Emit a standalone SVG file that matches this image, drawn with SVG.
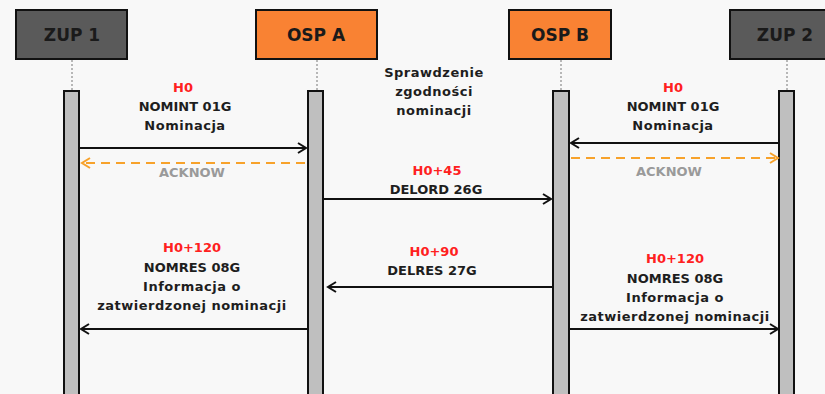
<svg xmlns="http://www.w3.org/2000/svg" width="825" height="394" viewBox="0 0 825 394">
<defs>
<style>
.bg{fill:#f8f8f8}
.hdr{stroke:#111;stroke-width:2}
.grey{fill:#5a5a5a}
.orange{fill:#f98233}
.hl{font-family:"DejaVu Sans",sans-serif;font-weight:bold;font-size:17px;fill:#1a1a1a;text-anchor:middle}
.life{stroke:#777;stroke-width:1;stroke-dasharray:2,2}
.bar{fill:#bfbfbf;stroke:#111;stroke-width:2}
.msg{stroke:#111;stroke-width:2;fill:none}
.ack{stroke:#f7a22b;stroke-width:2;fill:none;stroke-dasharray:9,6}
.t{font-family:"DejaVu Sans",sans-serif;font-weight:bold;font-size:13px;fill:#1e1e1e;text-anchor:middle}
.lc{letter-spacing:0.5px}
.r{fill:#ff2020}
.g{fill:#9a9a9a}
</style>
<marker id="ah" markerWidth="12" markerHeight="12" refX="9" refY="6" orient="auto" markerUnits="userSpaceOnUse">
<path d="M1,1 L9,6 L1,11" fill="none" stroke="#111" stroke-width="2"/>
</marker>
<marker id="aho" markerWidth="12" markerHeight="12" refX="9" refY="6" orient="auto" markerUnits="userSpaceOnUse">
<path d="M1,1 L9,6 L1,11" fill="none" stroke="#f7a22b" stroke-width="2"/>
</marker>
</defs>
<rect class="bg" x="0" y="0" width="825" height="394"/>

<g id="zup1">
<rect class="hdr grey" x="16" y="10" width="111" height="49"/>
<text class="hl" x="72" y="41">ZUP 1</text>
<line class="life" x1="72" y1="60" x2="72" y2="90"/>
<rect class="bar" x="64" y="91" width="15" height="310"/>
</g>
<g id="ospa">
<rect class="hdr orange" x="256" y="10" width="121" height="49"/>
<text class="hl" x="316" y="41">OSP A</text>
<line class="life" x1="317" y1="60" x2="317" y2="90"/>
<rect class="bar" x="308" y="91" width="15" height="310"/>
</g>
<g id="ospb">
<rect class="hdr orange" x="509" y="10" width="102" height="49"/>
<text class="hl" x="560" y="41">OSP B</text>
<line class="life" x1="561" y1="60" x2="561" y2="90"/>
<rect class="bar" x="553" y="91" width="16" height="310"/>
</g>
<g id="zup2">
<rect class="hdr grey" x="730" y="10" width="110" height="49"/>
<text class="hl" x="785" y="41">ZUP 2</text>
<line class="life" x1="787" y1="60" x2="787" y2="90"/>
<rect class="bar" x="779" y="91" width="15" height="310"/>
</g>

<g id="connectors">
<line class="msg" x1="80" y1="148" x2="306" y2="148" marker-end="url(#ah)"/>
<line class="ack" x1="305" y1="163" x2="82" y2="163" marker-end="url(#aho)"/>
<line class="msg" x1="778" y1="143" x2="571" y2="143" marker-end="url(#ah)"/>
<line class="ack" x1="571" y1="158" x2="778" y2="158" marker-end="url(#aho)"/>
<line class="msg" x1="324" y1="199" x2="551" y2="199" marker-end="url(#ah)"/>
<line class="msg" x1="552" y1="287" x2="328" y2="287" marker-end="url(#ah)"/>
<line class="msg" x1="307" y1="329" x2="81" y2="329" marker-end="url(#ah)"/>
<line class="msg" x1="570" y1="329" x2="778" y2="329" marker-end="url(#ah)"/>
</g>

<g id="labels">
<text class="t r" x="183" y="92">H0</text>
<text class="t" x="185" y="111">NOMINT 01G</text>
<text class="t lc" x="185" y="130">Nominacja</text>
<text class="t g" x="192" y="177">ACKNOW</text>

<text class="t lc" x="434" y="77">Sprawdzenie</text>
<text class="t lc" x="434" y="96">zgodności</text>
<text class="t lc" x="434" y="115">nominacji</text>

<text class="t r" x="673" y="92">H0</text>
<text class="t" x="673" y="111">NOMINT 01G</text>
<text class="t lc" x="673" y="130">Nominacja</text>
<text class="t g" x="669" y="176">ACKNOW</text>

<text class="t r" x="437" y="175">H0+45</text>
<text class="t" x="436" y="194">DELORD 26G</text>

<text class="t r" x="434" y="256">H0+90</text>
<text class="t" x="432" y="275">DELRES 27G</text>

<text class="t r" x="192" y="252">H0+120</text>
<text class="t" x="192" y="272">NOMRES 08G</text>
<text class="t lc" x="192" y="291">Informacja o</text>
<text class="t lc" x="192" y="310">zatwierdzonej nominacji</text>

<text class="t r" x="675" y="263">H0+120</text>
<text class="t" x="675" y="283">NOMRES 08G</text>
<text class="t lc" x="675" y="302">Informacja o</text>
<text class="t lc" x="675" y="321">zatwierdzonej nominacji</text>
</g>
</svg>
